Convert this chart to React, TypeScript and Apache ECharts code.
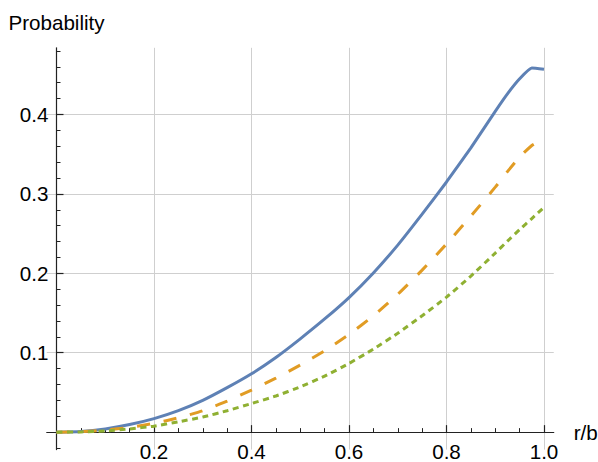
import React, { useEffect, useRef } from "react";
import * as echarts from "echarts";

// r/b sample positions
const xValues = [0, 0.05, 0.1, 0.15, 0.2, 0.25, 0.3, 0.35, 0.4, 0.45, 0.5, 0.55, 0.6, 0.65, 0.7, 0.75, 0.8, 0.85, 0.9, 0.925, 0.95, 0.975, 1.0];
// Probability curves
const blueValues = [0, 0.0008, 0.004, 0.0095, 0.017, 0.027, 0.04, 0.056, 0.0735, 0.094, 0.1175, 0.1425, 0.1695, 0.2005, 0.2355, 0.2745, 0.315, 0.358, 0.404, 0.426, 0.445, 0.4585, 0.457];
const orangeValues = [0, 0.0005, 0.0025, 0.006, 0.011, 0.018, 0.027, 0.039, 0.053, 0.068, 0.0845, 0.1025, 0.123, 0.1465, 0.1735, 0.204, 0.237, 0.272, 0.3085, 0.328, 0.3465, 0.361, 0.37];
const greenValues = [0, 0.0003, 0.0015, 0.004, 0.0075, 0.013, 0.019, 0.027, 0.036, 0.0455, 0.057, 0.0705, 0.0865, 0.1045, 0.1245, 0.1465, 0.17, 0.1965, 0.2255, 0.2405, 0.255, 0.269, 0.283];

// ticks / grid lines
const xMajorTicks = [0.2, 0.4, 0.6, 0.8, 1.0];
const xMinorTicks = [0.05, 0.1, 0.15, 0.25, 0.3, 0.35, 0.45, 0.5, 0.55, 0.65, 0.7, 0.75, 0.85, 0.9, 0.95];
const yMajorTicks = [0.1, 0.2, 0.3, 0.4];
const yMinorTicks = [-0.02, 0.02, 0.04, 0.06, 0.08, 0.12, 0.14, 0.16, 0.18, 0.22, 0.24, 0.26, 0.28, 0.32, 0.34, 0.36, 0.38, 0.42, 0.44, 0.46, 0.48];
const xGridLines = [0.2, 0.4, 0.6, 0.8, 1.0];
const yGridLines = [0.1, 0.2, 0.3, 0.4];

const X_MIN = -0.02;
const X_MAX = 1.02;
const Y_MIN = -0.022;
const Y_MAX = 0.484;

const GRID_LEFT = 46.75;
const GRID_RIGHT = 44.25;
const GRID_TOP = 47.8;
const GRID_BOTTOM = 12.4;
const W = 598;
const H = 462;

const FONT = "'Liberation Sans', Arial, Helvetica, sans-serif";
const FONT_SIZE = 20.6;
const AXIS_COLOR = "#222";

export default function App() {
  const ref = useRef<HTMLDivElement>(null);

  useEffect(() => {
    if (!ref.current) return;
    const chart = echarts.init(ref.current, undefined, { renderer: "svg" });

    const pair = (ys: number[]) => xValues.map((x, i) => [x, ys[i]]);

    // place axes at the origin (value 0 of the other axis)
    const plotW = W - GRID_LEFT - GRID_RIGHT;
    const plotH = H - GRID_TOP - GRID_BOTTOM;
    const xAxisOffset = -((0 - Y_MIN) / (Y_MAX - Y_MIN)) * plotH;
    const yAxisOffset = -((0 - X_MIN) / (X_MAX - X_MIN)) * plotW;

    const commonX = {
      type: "value",
      min: X_MIN,
      max: X_MAX,
      position: "bottom",
      offset: xAxisOffset,
      z: 1,
      splitLine: { show: false },
    };
    const commonY = {
      type: "value",
      min: Y_MIN,
      max: Y_MAX,
      position: "left",
      offset: yAxisOffset,
      z: 1,
      splitLine: { show: false },
    };

    chart.setOption({
      animation: false,
      backgroundColor: "#ffffff",
      textStyle: { fontFamily: FONT },
      grid: {
        left: GRID_LEFT,
        right: GRID_RIGHT,
        top: GRID_TOP,
        bottom: GRID_BOTTOM,
        containLabel: false,
        outerBoundsMode: "none",
      },
      xAxis: [
        {
          ...commonX,
          name: "r/b",
          nameLocation: "end",
          nameGap: 20,
          nameTextStyle: { color: "#000", fontSize: FONT_SIZE, fontFamily: FONT },
          axisLine: { show: true, onZero: false, lineStyle: { color: AXIS_COLOR, width: 1.2 } },
          axisTick: { show: true, inside: true, length: 7, customValues: xMajorTicks, lineStyle: { color: AXIS_COLOR, width: 1.2 } },
          axisLabel: {
            show: true,
            customValues: xMajorTicks,
            margin: 9,
            color: "#000",
            fontSize: FONT_SIZE,
            fontFamily: FONT,
            formatter: (v: number) => v.toFixed(1),
          },
        },
        {
          ...commonX,
          axisLine: { show: false, onZero: false },
          axisTick: { show: true, inside: true, length: 4, customValues: xMinorTicks, lineStyle: { color: AXIS_COLOR, width: 1 } },
          axisLabel: { show: false },
        },
      ],
      yAxis: [
        {
          ...commonY,
          name: "Probability",
          nameLocation: "end",
          nameGap: 15,
          nameTextStyle: { color: "#000", fontSize: FONT_SIZE, fontFamily: FONT },
          axisLine: { show: true, onZero: false, lineStyle: { color: AXIS_COLOR, width: 1.2 } },
          axisTick: { show: true, inside: true, length: 7, customValues: yMajorTicks, lineStyle: { color: AXIS_COLOR, width: 1.2 } },
          axisLabel: {
            show: true,
            customValues: yMajorTicks,
            margin: 8,
            color: "#000",
            fontSize: FONT_SIZE,
            fontFamily: FONT,
            formatter: (v: number) => v.toFixed(1),
          },
        },
        {
          ...commonY,
          axisLine: { show: false, onZero: false },
          axisTick: { show: true, inside: true, length: 4, customValues: yMinorTicks, lineStyle: { color: AXIS_COLOR, width: 1 } },
          axisLabel: { show: false },
        },
      ],
      series: [
        {
          name: "grid",
          type: "line",
          xAxisIndex: 0,
          yAxisIndex: 0,
          data: [],
          silent: true,
          z: 0,
          markLine: {
            silent: true,
            z: 0,
            symbol: ["none", "none"],
            label: { show: false },
            emphasis: { disabled: true },
            lineStyle: { color: "#cfcfcf", type: "solid", width: 1 },
            data: [
              ...xGridLines.map((v) => ({ xAxis: v })),
              ...yGridLines.map((v) => ({ yAxis: v })),
            ],
          },
        },
        {
          name: "blue",
          type: "line",
          xAxisIndex: 0,
          yAxisIndex: 0,
          data: pair(blueValues),
          showSymbol: false,
          smooth: 0.15,
          z: 3,
          lineStyle: { color: "#5E81B5", width: 3 },
        },
        {
          name: "orange",
          type: "line",
          xAxisIndex: 0,
          yAxisIndex: 0,
          data: pair(orangeValues),
          showSymbol: false,
          smooth: 0.15,
          z: 3,
          lineStyle: { color: "#E19C24", width: 3, type: [13, 14], cap: "butt" },
        },
        {
          name: "green",
          type: "line",
          xAxisIndex: 0,
          yAxisIndex: 0,
          data: pair(greenValues),
          showSymbol: false,
          smooth: 0.15,
          z: 3,
          lineStyle: { color: "#8FB032", width: 3, type: [6, 4.5], cap: "butt" },
        },
      ],
    });

    return () => chart.dispose();
  }, []);

  return (
    <div
      ref={ref}
      style={{ position: "fixed", left: 0, top: 0, width: W, height: H, background: "#fff" }}
    />
  );
}
